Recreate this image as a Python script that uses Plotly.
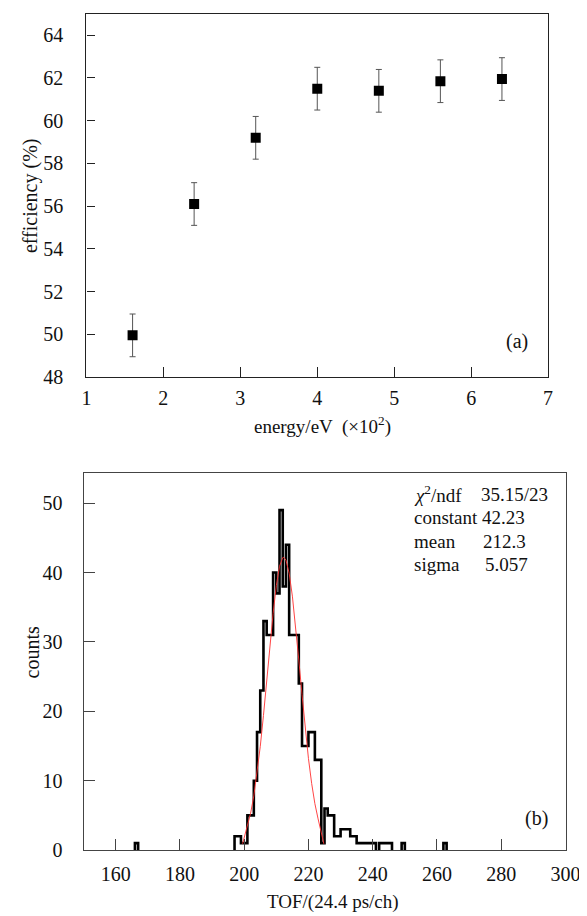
import plotly.graph_objects as go

# ---------------- data: panel (a) ----------------
energy = [1.6, 2.4, 3.2, 4.0, 4.8, 5.6, 6.4]            # x 10^2 eV
efficiency = [49.95, 56.1, 59.2, 61.5, 61.4, 61.85, 61.95]  # %
eff_err = [1.0, 1.0, 1.0, 1.0, 1.0, 1.0, 1.0]

# ---------------- data: panel (b) ----------------
# histogram: bin left edges (channel) and counts, bin width 1
bin_left = [166,
            197, 198, 199, 200, 201, 202, 203, 204, 205, 206, 207, 208, 209,
            210, 211, 212, 213, 214, 215, 216, 217, 218, 219, 220, 221, 222,
            223, 224, 225, 226, 227, 228, 229, 230, 231, 232, 233, 234, 235,
            236, 237, 238, 239, 240, 241, 242, 243, 244, 245, 246, 247, 248,
            249, 262]
counts = [1,
          2, 2, 1, 1, 5, 5, 10, 17, 23, 33, 31, 31, 40,
          37, 49, 38, 44, 31, 31, 31, 24, 15, 15, 17, 17, 13,
          13, 1, 6, 5, 5, 2, 2, 3, 3, 3, 2, 2, 1,
          1, 1, 1, 1, 1, 0, 1, 1, 1, 1, 0, 0, 0,
          1, 1]
bin_width = 1

# fitted gaussian curve
fit_x = [199.5, 201, 202, 203, 204, 205, 206, 207, 208, 209, 210, 211, 212,
         212.3, 213, 214, 215, 216, 217, 218, 219, 220, 221, 222, 223, 224, 224.8]
fit_y = [0.9, 3.5, 5.3, 7.8, 11.0, 14.9, 19.4, 24.4, 29.4, 34.1, 38.1, 40.9, 42.15,
         42.2, 41.8, 39.9, 36.6, 32.3, 27.4, 22.4, 17.6, 13.2, 9.6, 6.7, 4.5, 2.6, 0.9]

stats_names = ["<i>χ</i><sup>2</sup>/ndf", "constant", "mean", "sigma"]
stats_values = ["35.15/23", "42.23", "212.3", "5.057"]

# ---------------- build histogram outline (runs of non-zero bins) ----------
hx, hy = [], []
run = []
def flush(run):
    if not run:
        return
    hx.append(run[0][0]); hy.append(0)
    for (l, v) in run:
        hx.extend([l, l + bin_width]); hy.extend([v, v])
    hx.append(run[-1][0] + bin_width); hy.append(0)
    hx.append(None); hy.append(None)

prev_right = None
for l, v in zip(bin_left, counts):
    if v == 0 or (prev_right is not None and l != prev_right):
        flush(run); run = []
    if v > 0:
        run.append((l, v))
    prev_right = l + bin_width
flush(run)

W, H = 587, 916
def px(x): return x / W
def py(y): return 1 - y / H

FONT = "Liberation Serif, Times New Roman, serif"
TICK = 20

fig = go.Figure()

fig.add_trace(go.Scatter(
    x=energy, y=efficiency, mode="markers",
    marker=dict(symbol="square", size=10, color="black"),
    error_y=dict(type="data", array=eff_err, color="#555", thickness=1, width=3),
    xaxis="x", yaxis="y", showlegend=False))

fig.add_trace(go.Scatter(
    x=hx, y=hy, mode="lines", line=dict(color="black", width=2.6),
    connectgaps=False, xaxis="x2", yaxis="y2", showlegend=False))

fig.add_trace(go.Scatter(
    x=fit_x, y=fit_y, mode="lines", line=dict(color="#ff3030", width=0.9),
    xaxis="x2", yaxis="y2", showlegend=False))

axcommon = dict(showgrid=False, zeroline=False, showline=True, mirror=True,
                ticks="inside", tickfont=dict(family=FONT, size=TICK, color="#111"))

fig.update_layout(
    width=W, height=H,
    margin=dict(l=0, r=0, t=0, b=0),
    paper_bgcolor="white", plot_bgcolor="white",
    font=dict(family=FONT, color="#111"),
    xaxis=dict(domain=[px(76), px(554)], anchor="y", range=[1, 7], dtick=1,
               ticklen=10, tickcolor="#222", linecolor="#222", linewidth=1.2,
               ticklabelstandoff=3, **axcommon),
    yaxis=dict(domain=[py(373.5), py(6)], anchor="x", range=[48, 65],
               tickvals=[48, 50, 52, 54, 56, 58, 60, 62, 64],
               ticklen=8, tickcolor="#222", linecolor="#222", linewidth=1.2,
               ticklabelstandoff=18, **axcommon),
    xaxis2=dict(domain=[px(73), px(572)], anchor="y2", range=[150, 300], dtick=20,
                ticklen=11, tickcolor="#444", linecolor="#444", linewidth=1.2,
                ticklabelstandoff=6, **axcommon),
    yaxis2=dict(domain=[py(852.3), py(471)], anchor="x2", range=[0, 54.3], dtick=10,
                ticklen=11, tickcolor="#444", linecolor="#444", linewidth=1.2,
                ticklabelstandoff=16, **axcommon),
)

ann = []
def text(t, x, y, size=19, xanchor="center", angle=0):
    ann.append(dict(text=t, x=px(x), y=py(y), xref="paper", yref="paper",
                    showarrow=False, xanchor=xanchor, yanchor="middle",
                    textangle=angle, font=dict(family=FONT, size=size, color="#111")))

text("energy/eV  (×10<sup>2</sup>)", 320, 423)
text("efficiency (%)", 18, 190, size=20, angle=-90)
text("(a)", 522, 338, size=20)
text("TOF/(24.4 ps/ch)", 331, 905)
text("counts", 20, 652, size=20, angle=-90)
text("(b)", 542, 820, size=20)

name_x = [413, 413, 413, 413]
val_x = [482, 483, 485, 487]
row_y = [492, 516, 540, 563]
for n, v, nx, vx, yy in zip(stats_names, stats_values, name_x, val_x, row_y):
    text(n, nx, yy, size=19, xanchor="left")
    text(v, vx, yy, size=19, xanchor="left")

fig.update_layout(annotations=ann)
fig.write_html("out.html")
